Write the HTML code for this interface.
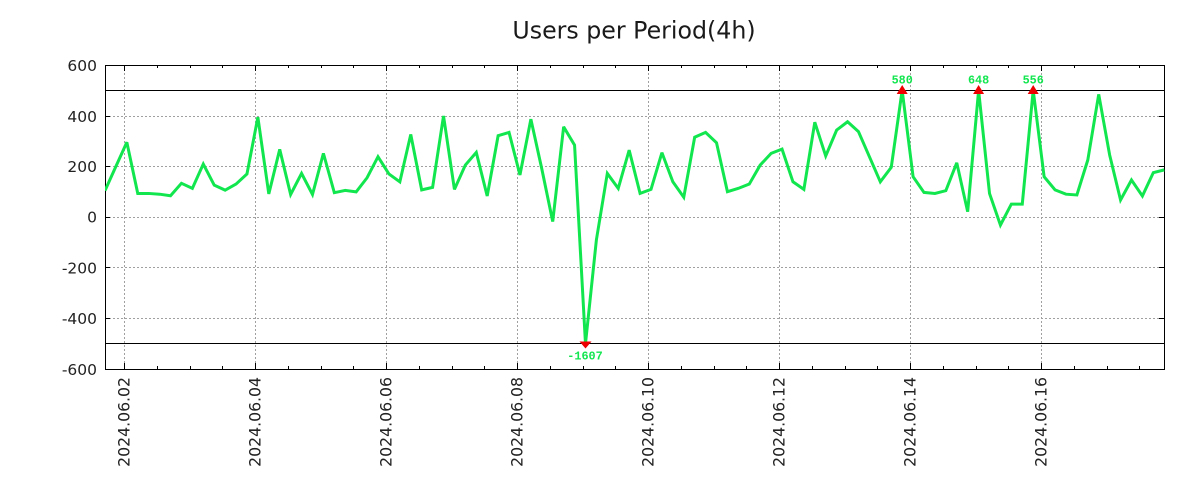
<!DOCTYPE html>
<html>
<head>
<meta charset="utf-8">
<style>
html,body{margin:0;padding:0;background:#fff;}
svg{display:block;}
</style>
</head>
<body>
<svg width="1200" height="500" viewBox="0 0 1200 500" xmlns="http://www.w3.org/2000/svg">
<rect x="0" y="0" width="1200" height="500" fill="#fff"/>
<text x="634" y="38.3" text-anchor="middle" font-family="DejaVu Sans, Liberation Sans, sans-serif" font-size="23.7" fill="#1a1a1a">Users per Period(4h)</text>

<!-- grid -->
<g stroke="#a0a0a0" stroke-width="1" stroke-dasharray="2,2" fill="none">
<line x1="105" y1="116.5" x2="1164" y2="116.5"/>
<line x1="105" y1="166.5" x2="1164" y2="166.5"/>
<line x1="105" y1="217.5" x2="1164" y2="217.5"/>
<line x1="105" y1="267.5" x2="1164" y2="267.5"/>
<line x1="105" y1="318.5" x2="1164" y2="318.5"/>
<line x1="124.5" y1="65" x2="124.5" y2="369"/>
<line x1="255.5" y1="65" x2="255.5" y2="369"/>
<line x1="386.5" y1="65" x2="386.5" y2="369"/>
<line x1="517.5" y1="65" x2="517.5" y2="369"/>
<line x1="648.5" y1="65" x2="648.5" y2="369"/>
<line x1="779.5" y1="65" x2="779.5" y2="369"/>
<line x1="910.5" y1="65" x2="910.5" y2="369"/>
<line x1="1041.5" y1="65" x2="1041.5" y2="369"/>
</g>

<!-- threshold lines -->
<g stroke="#000" stroke-width="1">
<line x1="105" y1="90.5" x2="1164" y2="90.5"/>
<line x1="105" y1="343.5" x2="1164" y2="343.5"/>
</g>

<!-- ticks -->
<g stroke="#000" stroke-width="1">
<path d="M124.5 369v-6M255.5 369v-6M386.5 369v-6M517.5 369v-6M648.5 369v-6M779.5 369v-6M910.5 369v-6M1041.5 369v-6
M124.5 65v6M255.5 65v6M386.5 65v6M517.5 65v6M648.5 65v6M779.5 65v6M910.5 65v6M1041.5 65v6"/>
<path d="M157.5 369v-3M190.5 369v-3M222.5 369v-3M288.5 369v-3M321.5 369v-3M353.5 369v-3M419.5 369v-3M452.5 369v-3M484.5 369v-3M550.5 369v-3M583.5 369v-3M615.5 369v-3M681.5 369v-3M714.5 369v-3M746.5 369v-3M812.5 369v-3M845.5 369v-3M877.5 369v-3M943.5 369v-3M976.5 369v-3M1008.5 369v-3M1074.5 369v-3M1107.5 369v-3M1139.5 369v-3
M157.5 65v3M190.5 65v3M222.5 65v3M288.5 65v3M321.5 65v3M353.5 65v3M419.5 65v3M452.5 65v3M484.5 65v3M550.5 65v3M583.5 65v3M615.5 65v3M681.5 65v3M714.5 65v3M746.5 65v3M812.5 65v3M845.5 65v3M877.5 65v3M943.5 65v3M976.5 65v3M1008.5 65v3M1074.5 65v3M1107.5 65v3M1139.5 65v3"/>
<path d="M105 116.5h5M105 166.5h5M105 217.5h5M105 267.5h5M105 318.5h5
M1164 116.5h-5M1164 166.5h-5M1164 217.5h-5M1164 267.5h-5M1164 318.5h-5"/>
</g>

<!-- border -->
<rect x="105.5" y="65.5" width="1059" height="304" fill="none" stroke="#000" stroke-width="1"/>

<!-- y labels -->
<g font-family="DejaVu Sans, Liberation Sans, sans-serif" font-size="15.5" fill="#222" text-anchor="end">
<text x="97" y="70.8">600</text>
<text x="97" y="121.8">400</text>
<text x="97" y="172">200</text>
<text x="97" y="222.6">0</text>
<text x="97" y="273.3">-200</text>
<text x="97" y="324">-400</text>
<text x="97" y="374.8">-600</text>
</g>

<!-- x labels -->
<g font-family="DejaVu Sans, Liberation Sans, sans-serif" font-size="15.7" fill="#222" text-anchor="end">
<text transform="translate(129.5,377) rotate(-90)">2024.06.02</text>
<text transform="translate(260.5,377) rotate(-90)">2024.06.04</text>
<text transform="translate(391.5,377) rotate(-90)">2024.06.06</text>
<text transform="translate(522.5,377) rotate(-90)">2024.06.08</text>
<text transform="translate(653.5,377) rotate(-90)">2024.06.10</text>
<text transform="translate(784.5,377) rotate(-90)">2024.06.12</text>
<text transform="translate(915.5,377) rotate(-90)">2024.06.14</text>
<text transform="translate(1046.5,377) rotate(-90)">2024.06.16</text>
</g>

<!-- series -->
<defs><clipPath id="pc"><rect x="105" y="65" width="1060" height="305"/></clipPath></defs>
<polyline clip-path="url(#pc)" fill="none" stroke="#12e64f" stroke-width="3" stroke-linejoin="miter" stroke-miterlimit="3" points="
105.0,190.65 115.92,166.33 126.84,142.27 137.76,193.44 148.68,193.44 159.6,194.2 170.52,195.72 181.44,183.31 192.36,188.37 203.28,164.05
214.2,185.08 225.12,190.15 236.04,184.07 246.96,173.93 257.88,117.19 268.8,193.95 279.72,149.36 290.64,194.45 301.56,173.43 312.48,194.45
323.4,153.41 334.32,192.68 345.24,190.4 356.16,191.92 367.08,177.73 378.0,156.71 388.92,173.93 399.84,181.79 410.76,134.41 421.68,189.89
432.6,187.36 443.52,115.92 454.44,189.39 465.36,165.07 476.28,152.4 487.2,195.97 498.12,135.68 509.04,132.39 519.96,174.95 530.88,119.21
541.8,168.87 552.72,221.56 563.64,126.81 574.56,145.05 585.48,343.67 596.4,239.8 607.32,173.43 618.24,188.37 629.16,150.12 640.08,193.44
651.0,189.39 661.92,152.65 672.84,181.79 683.76,197.24 694.68,137.2 705.6,132.39 716.52,142.77 727.44,191.67 738.36,188.37 749.28,184.07
760.2,165.07 771.12,153.41 782.04,149.11 792.96,181.79 803.88,189.39 814.8,122.25 825.72,155.95 836.64,130.11 847.56,121.75 858.48,131.63
869.4,156.71 880.32,181.79 891.24,167.35 902.16,90.33 913.08,176.72 924.0,192.43 934.92,193.44 945.84,190.65 956.76,162.79 967.68,211.68
978.6,90.33 989.52,193.44 1000.44,225.11 1011.36,204.08 1022.28,204.08 1033.2,90.33 1044.12,176.72 1055.04,189.89 1065.96,194.2 1076.88,194.96
1087.8,160.0 1098.72,94.39 1109.64,154.93 1120.56,200.03 1131.48,180.01 1142.4,195.97 1153.32,172.67 1164.24,169.88"/>

<!-- markers (on top of line) -->
<g fill="#ee0000">
<polygon points="896.7,94 907.7,94 902.2,85"/>
<polygon points="973.1,94 984.1,94 978.6,85"/>
<polygon points="1027.7,94 1038.7,94 1033.2,85"/>
<polygon points="579.5,341.5 591.5,341.5 585.5,348.5"/>
</g>

<!-- peak labels -->
<g font-family="Liberation Mono, DejaVu Sans Mono, monospace" font-size="11.8" font-weight="bold" fill="#12e64f" text-anchor="middle">
<text x="902.2" y="83.5">580</text>
<text x="978.6" y="83.5">648</text>
<text x="1033.2" y="83.5">556</text>
<text x="585" y="359.5">-1607</text>
</g>
</svg>
</body>
</html>
